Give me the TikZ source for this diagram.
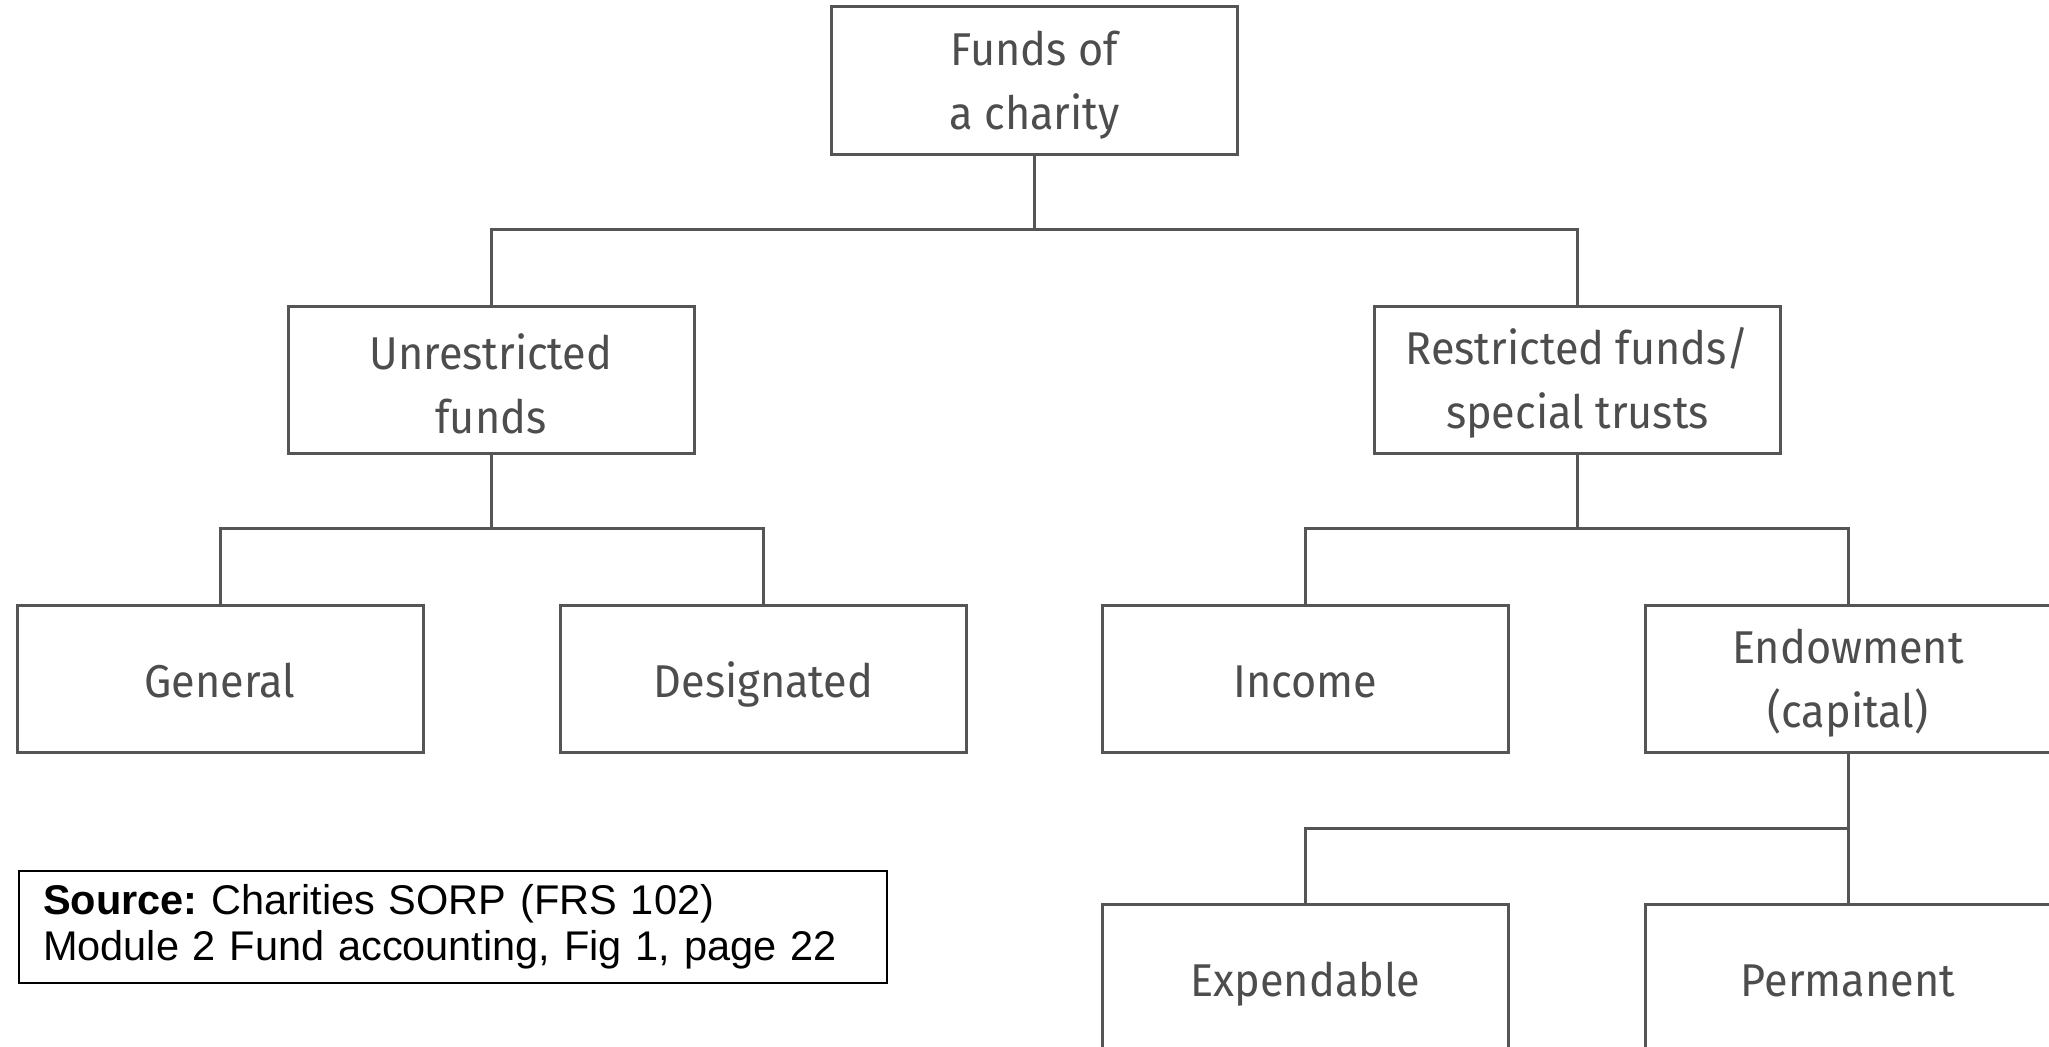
\documentclass[tikz,border=0pt]{standalone}
\usepackage{fontspec}
\setmainfont{Fira Sans}[FakeStretch=0.94]
\newfontfamily\srcfont{Liberation Sans}
\definecolor{boxline}{HTML}{555555}
\definecolor{boxtext}{HTML}{4D4D4D}
\newcommand{\firstline}{\rule{0pt}{44pt}}
\frenchspacing
\begin{document}
\begin{tikzpicture}[x=1pt,y=-1pt,
  fundbox/.style={draw=boxline, line width=3pt, minimum width=406pt, minimum height=147pt,
    inner sep=0pt, align=center, text=boxtext, font=\fontsize{46}{64}\selectfont},
  oneline/.style={fundbox, text height=37pt, text depth=0pt},
  twoline/.style={fundbox},
  link/.style={draw=boxline, line width=3pt}]
\useasboundingbox (0,0) rectangle (2049,1046);
\clip (0,0) rectangle (2049,1046);
\node[twoline] (top) at (1034.5,80.5) {\firstline Funds of\\a charity};
\node[twoline] (unr) at (491,379.5) {\firstline Unrestricted\\funds};
\node[twoline] (res) at (1577.5,379.5) {\firstline Restricted funds/\\special trusts};
\node[oneline] (gen) at (220,678.5) {General};
\node[oneline] (des) at (763.5,678.5) {Designated};
\node[oneline] (inc) at (1305.5,678.5) {Income};
\node[twoline] (end) at (1848,678.5) {\firstline Endowment\\(capital)};
\node[oneline] (exp) at (1305.5,977.5) {Expendable};
\node[oneline] (per) at (1848,977.5) {Permanent};
\coordinate (j1) at (0,229);
\coordinate (j2) at (0,528);
\coordinate (j3) at (0,828);
\draw[link] (top.south) |- (j1 -| unr.north) -- (unr.north);
\draw[link] (top.south) |- (j1 -| res.north) -- (res.north);
\draw[link] (unr.south) |- (j2 -| gen.north) -- (gen.north);
\draw[link] (unr.south) |- (j2 -| des.north) -- (des.north);
\draw[link] (res.south) |- (j2 -| inc.north) -- (inc.north);
\draw[link] (res.south) |- (j2 -| end.north) -- (end.north);
\draw[link] (end.south) |- (j3 -| exp.north) -- (exp.north);
\draw[link] (end.south) -- (per.north);
\node[draw=black, line width=2pt, minimum width=868pt, minimum height=112pt, text width=820pt,
  inner xsep=24pt, inner ysep=0pt, align=left, font=\srcfont\fontsize{41.5}{46}\selectfont\frenchspacing]
  (src) at (453,927) {\textbf{Source:} Charities SORP (FRS 102)\\Module 2 Fund accounting, Fig 1, page 22};
\end{tikzpicture}
\end{document}
